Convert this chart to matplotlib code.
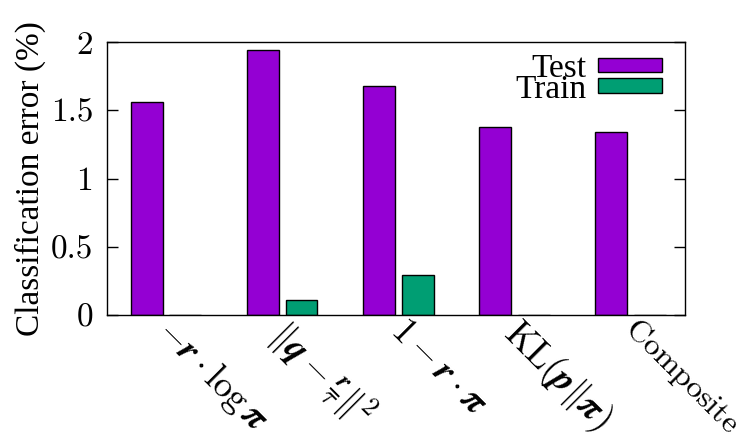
import matplotlib
matplotlib.use("Agg")
import matplotlib.pyplot as plt
from matplotlib.transforms import ScaledTranslation
import numpy as np

categories = [r"$-\boldsymbol{r}\cdot\log\boldsymbol{\pi}$",
              r"$\|\boldsymbol{q}-\frac{\boldsymbol{r}}{\tau}\|^2$",
              r"$1-\boldsymbol{r}\cdot\boldsymbol{\pi}$",
              r"$\mathrm{KL}(\boldsymbol{p}\|\boldsymbol{\pi})$",
              r"$\mathrm{Composite}$"]
test_err = [1.56, 1.94, 1.68, 1.38, 1.34]
train_err = [0.0, 0.11, 0.29, 0.0, 0.0]
yticks = [0, 0.5, 1, 1.5, 2]
ytick_labels = ["0", "0.5", "1", "1.5", "2"]

plt.rcParams["font.family"] = "cmr10"
plt.rcParams["mathtext.fontset"] = "cm"
plt.rcParams["axes.formatter.use_mathtext"] = True

fig = plt.figure(figsize=(7.47, 4.46), dpi=100)
ax = fig.add_axes([0.1432, 0.2937, 0.917 - 0.1432, 0.9058 - 0.2937])

x = np.arange(len(categories))
w = 0.275
off = 0.166
ax.bar(x - off, test_err, w, color="#9400D3", edgecolor="black", linewidth=1, label="Test")
ax.bar(x + off, train_err, w, color="#009E73", edgecolor="black", linewidth=1, label="Train")

ax.set_xlim(-0.51, 4.47)
ax.set_ylim(0, 2)
ax.set_yticks(yticks)
ax.set_yticklabels(ytick_labels)
ax.set_xticks(x)
ax.set_xticklabels(categories, rotation=-45, ha="left", va="top", rotation_mode="anchor")
ax.tick_params(axis="x", length=0, pad=4, labelsize=23)
ax.tick_params(axis="y", direction="in", length=8, width=1, right=True, pad=10, labelsize=24)
shift = ScaledTranslation(0.10, 0.08, fig.dpi_scale_trans)
for i, lab in enumerate(ax.get_xticklabels()):
    lab.set_transform(lab.get_transform() + shift)
    if i < len(categories) - 1:
        lab.set_fontsize(26.5)
for s in ax.spines.values():
    s.set_linewidth(1)

ax.set_ylabel("Classification error (%)", fontsize=24, labelpad=3,
              fontfamily=["Liberation Serif", "DejaVu Serif"])

leg = ax.legend(loc="upper right", bbox_to_anchor=(1.0, 1.044), frameon=False,
                markerfirst=False,
                prop={"family": ["Liberation Serif", "DejaVu Serif"], "size": 24},
                handlelength=1.92, handleheight=0.3, labelspacing=-0.29,
                handletextpad=0.33, borderaxespad=0.5, borderpad=0.2)

fig.savefig("out.png", dpi=100)
